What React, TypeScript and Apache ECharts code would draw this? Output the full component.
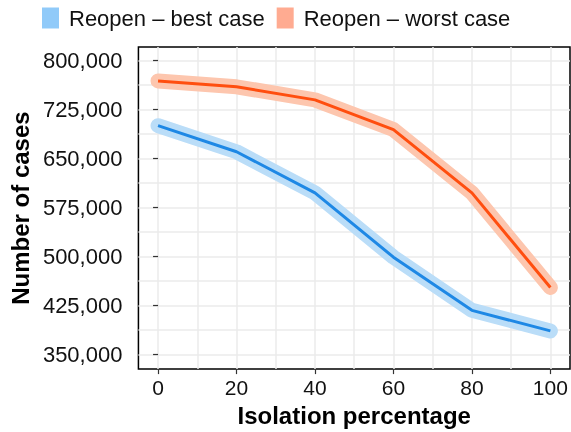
import React, { useEffect, useRef } from "react";
import * as echarts from "echarts";

const isolation = [0, 20, 40, 60, 80, 100];
const bestCase = [700500, 660500, 597500, 499000, 417500, 386000];
const worstCase = [769000, 760000, 740000, 694500, 597500, 452500];
const seriesNames = ["Reopen – best case", "Reopen – worst case"];
const xTickValues = [0, 20, 40, 60, 80, 100];
const xGridValues = [0, 10, 20, 30, 40, 50, 60, 70, 80, 90, 100];
const yTickValues = [350000, 425000, 500000, 575000, 650000, 725000, 800000];
const yGridValues = [350000, 387500, 425000, 462500, 500000, 537500, 575000, 612500, 650000, 687500, 725000, 762500, 800000];

const FONT = "'Liberation Sans', Arial, Helvetica, sans-serif";
const GRID_COLOR = "#EBEBEB";

export default function App() {
  const ref = useRef<HTMLDivElement>(null);
  useEffect(() => {
    if (!ref.current) return;
    const chart = echarts.init(ref.current, null, { renderer: "svg" });
    const toPairs = (vals: number[]) => isolation.map((x, i) => [x, vals[i]]);
    const gridAxis = (values: number[]) => ({
      type: "value" as const,
      axisLine: { show: false },
      axisTick: { show: false, customValues: values },
      axisLabel: { show: false },
      splitLine: { show: true, lineStyle: { color: GRID_COLOR, width: 1.5 } },
    });
    const option: any = {
      animation: false,
      textStyle: { fontFamily: FONT },
      legend: {
        left: 42,
        top: 7,
        padding: 0,
        icon: "rect",
        itemWidth: 17,
        itemHeight: 21,
        itemGap: 12,
        textStyle: { fontSize: 22, color: "#111", fontFamily: FONT, padding: [0, 0, 0, 5] },
        data: [
          { name: seriesNames[0], itemStyle: { color: "#90CAF9", borderWidth: 0, opacity: 1 } },
          { name: seriesNames[1], itemStyle: { color: "#FFAB91", borderWidth: 0, opacity: 1 } },
        ],
        selectedMode: false,
      },
      grid: {
        left: 134,
        right: 1,
        top: 47,
        bottom: 62,
        show: true,
        borderColor: "#000",
        borderWidth: 1.5,
        backgroundColor: "transparent",
      },
      xAxis: [
        {
          type: "value",
          min: -5,
          max: 105,
          position: "bottom",
          axisLine: { show: false },
          axisTick: { show: true, length: 5, customValues: xTickValues, lineStyle: { color: "#333", width: 1.2 } },
          axisLabel: { customValues: xTickValues, fontSize: 21, color: "#111", margin: 8, fontFamily: FONT },
          splitLine: { show: false },
          name: "Isolation percentage",
          nameLocation: "middle",
          nameGap: 32,
          nameTextStyle: { fontSize: 24, fontWeight: "bold", color: "#000", fontFamily: FONT },
        },
        { ...gridAxis(xGridValues), min: -5, max: 105, position: "bottom" },
      ],
      yAxis: [
        {
          type: "value",
          min: 327500,
          max: 821000,
          position: "left",
          axisLine: { show: false },
          axisTick: { show: true, length: 5, customValues: yTickValues, lineStyle: { color: "#333", width: 1.2 } },
          axisLabel: {
            customValues: yTickValues,
            fontSize: 22,
            color: "#111",
            margin: 16,
            fontFamily: FONT,
            formatter: (v: number) => v.toLocaleString("en-US"),
          },
          splitLine: { show: false },
          name: "Number of cases",
          nameLocation: "middle",
          nameGap: 103,
          nameTextStyle: { fontSize: 24, fontWeight: "bold", color: "#000", fontFamily: FONT },
        },
        { ...gridAxis(yGridValues), min: 327500, max: 821000, position: "left" },
      ],
      series: [
        {
          name: seriesNames[0],
          type: "line",
          data: toPairs(bestCase),
          symbol: "none",
          itemStyle: { color: "#90CAF9" },
          lineStyle: { color: "#BADDF8", width: 15, cap: "round", join: "round" },
          z: 2,
          silent: true,
        },
        {
          name: seriesNames[1],
          type: "line",
          data: toPairs(worstCase),
          symbol: "none",
          itemStyle: { color: "#FFAB91" },
          lineStyle: { color: "#FDC6AE", width: 15, cap: "round", join: "round" },
          z: 2,
          silent: true,
        },
        {
          name: "best-line",
          type: "line",
          data: toPairs(bestCase),
          symbol: "none",
          lineStyle: { color: "#1E88E5", width: 3, join: "round" },
          z: 3,
          silent: true,
        },
        {
          name: "worst-line",
          type: "line",
          data: toPairs(worstCase),
          symbol: "none",
          lineStyle: { color: "#FF4E0F", width: 3, join: "round" },
          z: 3,
          silent: true,
        },
      ],
    };
    chart.setOption(option);
    return () => chart.dispose();
  }, []);
  return <div ref={ref} style={{ position: "fixed", left: 0, top: 0, width: 571, height: 432 }} />;
}
